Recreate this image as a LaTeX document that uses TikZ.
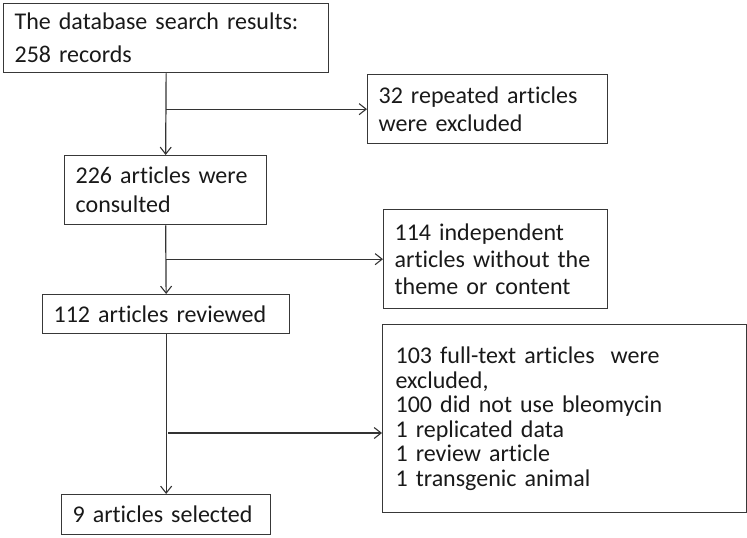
\documentclass[tikz,border=0pt]{standalone}
\usepackage{fontspec}
\setmainfont{Carlito}[Ligatures=NoCommon]
\usetikzlibrary{arrows.meta}
\begin{document}
\begin{tikzpicture}[x=1pt,y=-1pt,
  box/.style={draw=black!78, line width=1.3pt, anchor=north west, inner xsep=11pt, inner ysep=0pt,
    align=left, text=black!90, font=\fontsize{24}{33}\selectfont},
  conn/.style={draw=black!80, line width=1.2pt},
  arr/.style={conn, -{Straight Barb[length=7pt,width=11pt,line width=1.1pt]}}]
\useasboundingbox (0,0) rectangle (747,538);
\node[box, text width=303pt, minimum height=69pt] (b1) at (3,3) {The database search results:\\258 records};
\node[box, text width=218pt, minimum height=69pt, font=\fontsize{24}{28}\selectfont] (b2) at (367,74) {32 repeated articles\\were excluded};
\node[box, text width=180pt, minimum height=69pt, font=\fontsize{24}{29}\selectfont] (b3) at (64,155) {226 articles were\\consulted};
\node[box, text width=202pt, minimum height=99pt, font=\fontsize{24}{27}\selectfont] (b4) at (383,209) {114 independent\\articles without the\\theme or content};
\node[box, text width=225pt, minimum height=39pt] (b5) at (42,294) {112 articles reviewed};
\node[box, inner xsep=13pt, text width=338pt, minimum height=188pt, font=\fontsize{24}{24.6}\selectfont] (b6) at (382,324) {103 full-text articles\ \ were\\excluded,\\100 did not use bleomycin\\1 replicated data\\1 review article\\1 transgenic animal};
\node[box, text width=187pt, minimum height=40pt] (b7) at (61,494) {9 articles selected};
\coordinate (j3) at (168,433);
\draw[arr] (b1.south) -- (b3.north);
\draw[arr] (b1.south |- b2.west) -- (b2.west);
\draw[arr] (b3.south) -- (b5.north);
\draw[arr] (b3.south |- b4.west) -- (b4.west);
\draw[arr] (b5.south) -- (b7.north);
\draw[arr] (j3) -- (j3 -| b6.west);
\end{tikzpicture}
\end{document}
